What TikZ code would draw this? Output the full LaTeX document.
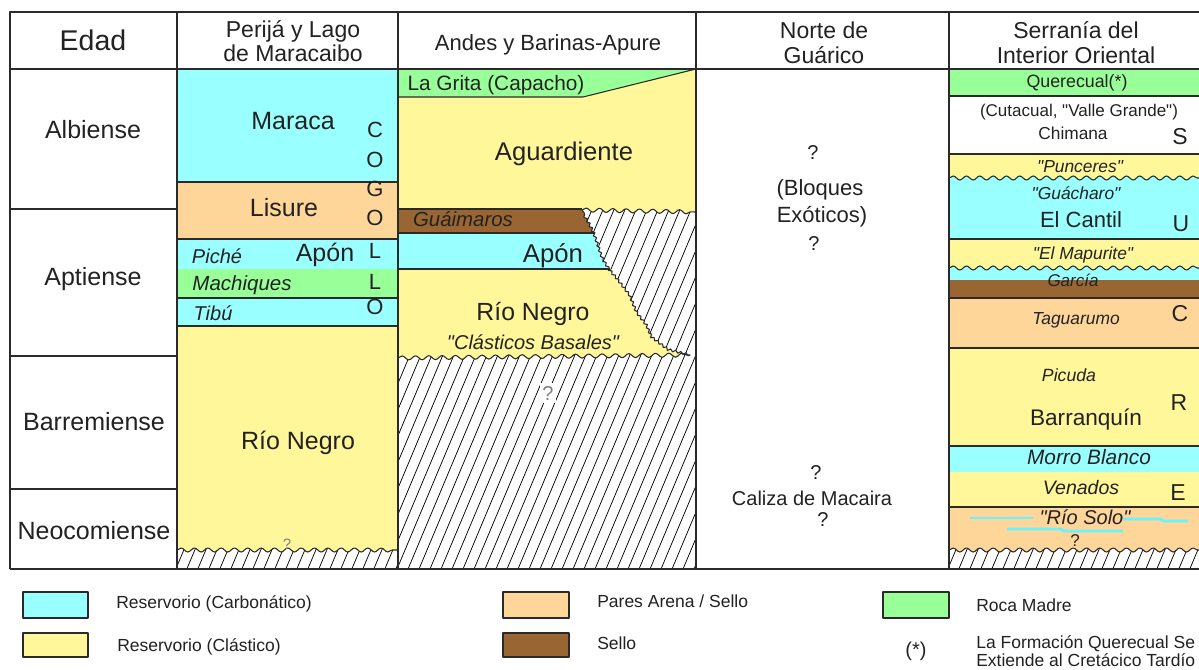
\documentclass[tikz,border=0pt]{standalone}
\usepackage{fontspec}
\defaultfontfeatures{}
\defaultfontfeatures[\rmfamily]{}
\setmainfont{Liberation Sans}
\usetikzlibrary{decorations.pathmorphing}
\definecolor{cyanL}{HTML}{99FFFF}
\definecolor{yelL}{HTML}{FFF799}
\definecolor{oraL}{HTML}{FFD699}
\definecolor{grnL}{HTML}{99FF99}
\definecolor{brnL}{HTML}{996633}
\definecolor{cyanS}{HTML}{66F5FF}
\definecolor{txt}{HTML}{222222}
\definecolor{ln}{HTML}{2A2A2A}
\newcommand\fpx[1]{\fontsize{\the\dimexpr #1pt*3/4\relax}{\the\dimexpr #1pt*81/100\relax}\selectfont}
\newcommand\hatchin[4]{%
  \pgfmathsetmacro\hH{#4-#3}%
  \pgfmathsetmacro\hdx{0.42*\hH}%
  \pgfmathtruncatemacro\hn{(#2-#1+\hdx)/11+1}%
  \foreach \k in {0,...,\hn}{\draw[hatchln] ({#1-\hdx+\k*11},#4) -- ++(\hdx,-\hH);}%
}
\begin{document}
\begin{tikzpicture}[x=0.75pt,y=-0.75pt,line join=round,
  bl/.style={line width=0.8pt,draw=ln},
  tl/.style={line width=1.1pt,draw=ln},
  hatchln/.style={line width=0.55pt,black},
  wv/.style={decoration={snake,segment length=10pt,amplitude=1.5pt}},
  jg/.style={decoration={snake,segment length=4pt,amplitude=0.9pt}},
  t/.style={inner sep=0pt,text=txt,text depth=0pt},
  fs/.style={font=\fpx{#1},text height=#1*0.537pt},
  fi/.style={font={\fpx{#1}\itshape},text height=#1*0.537pt},
  lg/.style={t,fs=17.5,anchor=west},
  box/.style={line width=1.1pt,draw=ln}]
\useasboundingbox (0,0) rectangle (1199,670);
\fill[white] (0,0) rectangle (1199,670);

% ---------- Perija y Lago de Maracaibo ----------
\fill[cyanL] (177,69) rectangle (398,182);
\fill[oraL] (177,182) rectangle (398,239);
\fill[cyanL] (177,239) rectangle (398,269);
\fill[grnL] (177,269) rectangle (398,298);
\fill[cyanL] (177,298) rectangle (398,326);
\fill[yelL] (177,326) rectangle (398,569);
\begin{scope}
  \clip (177,569) -- (177,550) decorate[wv]{-- (398,550)} -- (398,569) -- cycle;
  \fill[white] (177,540) rectangle (398,569);
  \hatchin{177}{398}{540}{569}
\end{scope}
\draw[bl] (177,550) decorate[wv]{-- (398,550)};
\draw[bl] (177,182) -- (398,182);
\draw[bl] (177,239) -- (398,239);
\draw[bl] (177,298) -- (398,298);
\draw[bl] (177,326) -- (398,326);

% ---------- Andes y Barinas-Apure ----------
\fill[yelL] (398,69) rectangle (696,362);
\fill[grnL] (398,69) -- (696,69) -- (583,97) -- (398,97) -- cycle;
\fill[brnL] (398,209) -- (582,209) -- (590,223) -- (595,233) -- (398,233) -- cycle;
\fill[cyanL] (398,233) -- (595,233) -- (598,242) -- (603,257) -- (610,269) -- (398,269) -- cycle;
\begin{scope}
  \clip (398,569) -- (398,358) decorate[wv]{-- (690,355)}
     decorate[jg]{-- (670,350) -- (653,337) -- (647,323) -- (637,310) -- (630,293) -- (620,280) -- (610,268) -- (603,257) -- (598,242) -- (595,233) -- (590,223) -- (582,210)}
     decorate[wv]{-- (696,212)} -- (696,569) -- cycle;
  \fill[white] (398,200) rectangle (696,569);
  \hatchin{398}{696}{200}{569}
\end{scope}
\draw[bl] (398,97) -- (583,97) -- (696,69);
\draw[bl] (398,209) -- (582,209);
\draw[bl] (398,233) -- (595,233);
\draw[bl] (398,269) -- (610,269);
\draw[bl] (398,358) decorate[wv]{-- (690,355)}
     decorate[jg]{-- (670,350) -- (653,337) -- (647,323) -- (637,310) -- (630,293) -- (620,280) -- (610,268) -- (603,257) -- (598,242) -- (595,233) -- (590,223) -- (582,210)}
     decorate[wv]{-- (696,212)};

% ---------- Serrania del Interior Oriental ----------
\fill[grnL] (949,69) rectangle (1199,96);
\fill[yelL] (949,154) rectangle (1199,185);
\fill[cyanL] (949,239) -- (949,178) decorate[wv]{-- (1199,178)} -- (1199,239) -- cycle;
\fill[yelL] (949,239) rectangle (1199,275);
\fill[cyanL] (949,280) -- (949,268) decorate[wv]{-- (1199,268)} -- (1199,280) -- cycle;
\fill[brnL] (949,280) rectangle (1199,298);
\fill[oraL] (949,298) rectangle (1199,348);
\fill[yelL] (949,348) rectangle (1199,446);
\fill[cyanL] (949,446) rectangle (1199,472);
\fill[yelL] (949,472) rectangle (1199,507);
\fill[oraL] (949,507) rectangle (1199,569);
\begin{scope}
  \clip (949,569) -- (949,550) decorate[wv]{-- (1199,550)} -- (1199,569) -- cycle;
  \fill[white] (949,540) rectangle (1199,569);
  \hatchin{949}{1199}{540}{569}
\end{scope}
\draw[bl] (949,550) decorate[wv]{-- (1199,550)};
\draw[bl] (949,96) -- (1199,96);
\draw[bl] (949,154) -- (1199,154);
\draw[bl] (949,178) decorate[wv]{-- (1199,178)};
\draw[bl] (949,239) -- (1199,239);
\draw[bl] (949,268) decorate[wv]{-- (1199,268)};
\draw[bl] (949,298) -- (1199,298);
\draw[bl] (949,348) -- (1199,348);
\draw[bl] (949,446) -- (1199,446);
\draw[bl] (949,507) -- (1199,507);
\draw[cyanS,line width=2.2pt] (970,518) -- (1033,518);
\draw[cyanS,line width=2.2pt] (1123,519) -- (1160,519) -- (1164,521) -- (1188,521);
\draw[cyanS,line width=2.2pt] (1007,529) -- (1060,529) -- (1064,531) -- (1123,531);

% ---------- table grid ----------
\draw[tl] (10,569) -- (10,12) -- (1199,12);
\draw[tl] (10,69) -- (1199,69);
\draw[tl] (10,569) -- (1199,569);
\foreach \cx in {177,398,696,949} \draw[tl] (\cx,12) -- (\cx,569);
\draw[tl] (10,209) -- (177,209);
\draw[tl] (10,356) -- (177,356);
\draw[tl] (10,489) -- (177,489);

% ---------- headers ----------
\node[t,fs=28.5] (hEdad) at (93,40) {Edad};
\node[t,fs=23] (hP1) at (293,29) {Perijá y Lago};
\node[t,fs=23] (hP2) at (293,53) {de Maracaibo};
\node[t,fs=22] (hA) at (548,43) {Andes y Barinas-Apure};
\node[t,fs=23] (hN1) at (824,30) {Norte de};
\node[t,fs=23] (hN2) at (824,55) {Guárico};
\node[t,fs=23] (hS1) at (1076,30) {Serranía del};
\node[t,fs=23] (hS2) at (1076,55) {Interior Oriental};

% ---------- ages ----------
\node[t,fs=25] (aAlb) at (93,130) {Albiense};
\node[t,fs=25] (aApt) at (93,277) {Aptiense};
\node[t,fs=25] (aBar) at (94,422) {Barremiense};
\node[t,fs=25] (aNeo) at (94,531) {Neocomiense};

% ---------- Perija texts ----------
\node[t,fs=25] (pMar) at (293,121) {Maraca};
\node[t,fs=25] (pLis) at (284,208) {Lisure};
\node[t,fi=20] (pPic) at (217,256) {Piché};
\node[t,fs=25] (pApo) at (325,253) {Apón};
\node[t,fi=20.5] (pMac) at (242,283) {Machiques};
\node[t,fi=20] (pTib) at (213,313) {Tibú};
\node[t,fs=25] (pRio) at (298,441) {Río Negro};
\node[t,fs=15,text=gray] (pQ) at (287,544) {?};
\foreach \ly/\lt [count=\li] in {130/C,160/O,189/G,218/O,251/L,282/L,307/O}
  \node[t,fs=22] (cog\li) at (375,\ly) {\lt};

% ---------- Andes texts ----------
\node[t,fs=20.8] (aGri) at (496,83) {La Grita (Capacho)};
\node[t,fs=25.6] (aAgu) at (564,151) {Aguardiente};
\node[t,fi=20.4] (aGua) at (463,219) {Guáimaros};
\node[t,fs=25.7] (aApo) at (553,253) {Apón};
\node[t,fs=24.8] (aRio) at (533,312) {Río Negro};
\node[t,fi=20] (aCla) at (533,342) {"Clásticos Basales"};
\node[t,fs=20,text=gray,fill=white,inner sep=2pt] (aQ) at (548,393) {?};

% ---------- Norte de Guarico texts ----------
\node[t,fs=20] (nQ1) at (813,152) {?};
\node[t,fs=22] (nBlo) at (820,188) {(Bloques};
\node[t,fs=22] (nExo) at (822,215) {Exóticos)};
\node[t,fs=20] (nQ2) at (814,243) {?};
\node[t,fs=20] (nQ3) at (816,472) {?};
\node[t,fs=20] (nCal) at (812,498) {Caliza de Macaira};
\node[t,fs=20] (nQ4) at (823,519) {?};

% ---------- Serrania texts ----------
\node[t,fs=17.8] (sQue) at (1077,81) {Querecual(*)};
\node[t,fs=17] (sCut) at (1079,110) {(Cutacual, "Valle Grande")};
\node[t,fs=17.3] (sChi) at (1073,133) {Chimana};
\node[t,fi=17.4] (sPun) at (1080,166) {"Punceres"};
\node[t,fi=17.4] (sGua) at (1076,193) {"Guácharo"};
\node[t,fs=22] (sCan) at (1081,220) {El Cantil};
\node[t,fi=17.4] (sMap) at (1083,253) {"El Mapurite"};
\node[t,fi=17] (sGar) at (1073,280) {García};
\node[t,fi=17.4] (sTag) at (1076,318) {Taguarumo};
\node[t,fi=17.7] (sPic) at (1069,375) {Picuda};
\node[t,fs=22.6] (sBar) at (1086,417) {Barranquín};
\node[t,fi=20.8] (sMor) at (1089,457) {Morro Blanco};
\node[t,fi=19.5] (sVen) at (1081,488) {Venados};
\node[t,fi=20] (sRio) at (1085,517) {"Río Solo"};
\node[t,fs=17] (sQ) at (1075,540) {?};
\node[t,fs=23] (sS) at (1180,136) {S};
\node[t,fs=23] (sU) at (1181,223) {U};
\node[t,fs=23] (sC) at (1180,313) {C};
\node[t,fs=23] (sR) at (1179,402) {R};
\node[t,fs=23] (sE) at (1178,492) {E};

% ---------- legend ----------
\draw[box,fill=cyanL] (23,592) rectangle (88,618);
\draw[box,fill=yelL] (23,633) rectangle (88,657);
\draw[box,fill=oraL] (503,592) rectangle (569,618);
\draw[box,fill=brnL] (503,633) rectangle (569,657);
\draw[box,fill=grnL] (883,592) rectangle (949,618);
\node[lg] (lCar) at (116,602) {Reservorio (Carbonático)};
\node[lg] (lCla) at (117,645) {Reservorio (Clástico)};
\node[lg] (lPar) at (597,601) {Pares Arena / Sello};
\node[lg] (lSel) at (597,643) {Sello};
\node[lg] (lRoc) at (976,605) {Roca Madre};
\node[t,fs=20] (lAst) at (916,649) {(*)};
\node[lg] (lLa1) at (976,642) {La Formación Querecual Se};
\node[lg] (lLa2) at (976,660) {Extiende al Cretácico Tardío};
\end{tikzpicture}
\end{document}
